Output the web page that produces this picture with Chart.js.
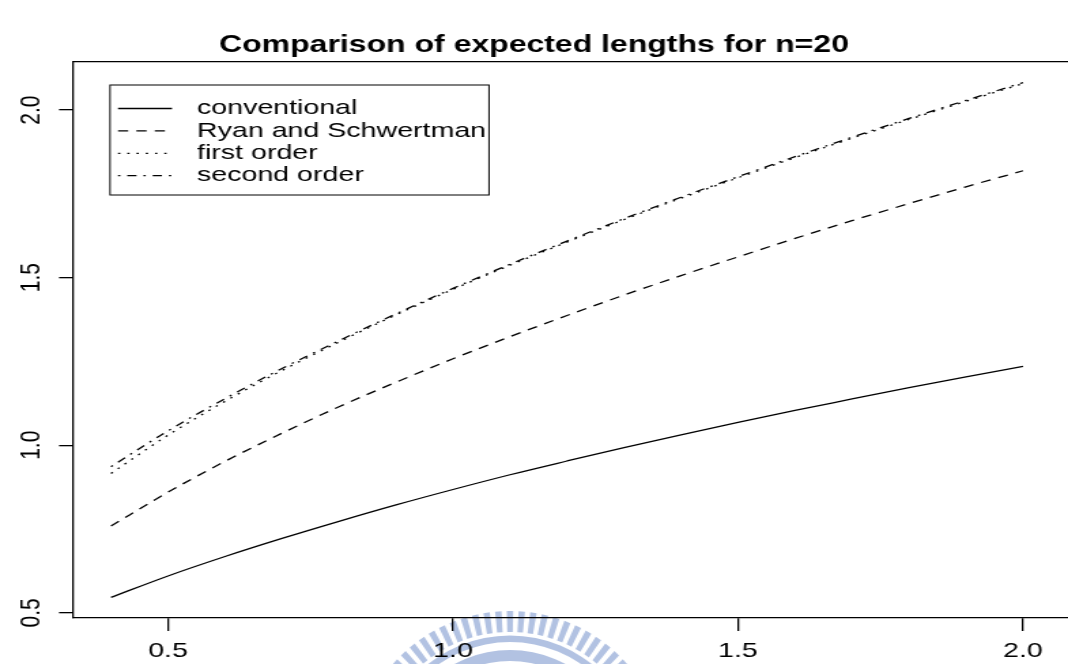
<!DOCTYPE html>
<html>
<head>
<meta charset="utf-8">
<title>Comparison of expected lengths for n=20</title>
<script src="https://cdn.jsdelivr.net/npm/chart.js@4.4.1/dist/chart.umd.min.js"></script>
<style>
  html, body { margin: 0; padding: 0; background: #ffffff; overflow: hidden; }
</style>
</head>
<body>
<!-- the drawing surface is rendered narrower and widened to the page size -->
<canvas id="plot" width="785" height="664" style="display:block;width:1068px;height:664px;"></canvas>
<script>
// parameter values on the x axis
const lambdaValues = [0.4, 0.5, 0.6, 0.7, 0.8, 0.9, 1.0, 1.1, 1.2, 1.3, 1.4, 1.5, 1.6, 1.7, 1.8, 1.9, 2.0];

// expected interval lengths for each method
const conventional = [0.546, 0.610, 0.668, 0.722, 0.773, 0.822, 0.868, 0.912, 0.953, 0.993, 1.031, 1.068, 1.104, 1.138, 1.172, 1.204, 1.235];
const ryanSchwertman = [0.759, 0.860, 0.952, 1.036, 1.115, 1.188, 1.258, 1.324, 1.387, 1.448, 1.506, 1.562, 1.617, 1.670, 1.721, 1.771, 1.819];
const firstOrder = [0.916, 1.030, 1.131, 1.223, 1.308, 1.389, 1.465, 1.537, 1.606, 1.673, 1.737, 1.798, 1.858, 1.916, 1.972, 2.026, 2.079];
const secondOrder = [0.936, 1.043, 1.139, 1.229, 1.312, 1.392, 1.468, 1.540, 1.609, 1.676, 1.740, 1.801, 1.861, 1.919, 1.975, 2.029, 2.082];

const seriesNames = ['conventional', 'Ryan and Schwertman', 'first order', 'second order'];

// axis ticks
const xTickValues = [0.5, 1.0, 1.5, 2.0];
const xTickLabels = ['0.5', '1.0', '1.5', '2.0'];
const yTickValues = [0.5, 1.0, 1.5, 2.0];
const yTickLabels = ['0.5', '1.0', '1.5', '2.0'];

const chartTitle = 'Comparison of expected lengths for n=20';

// horizontal widening factor of the canvas
const canvasEl = document.getElementById('plot');
const SX = 1068 / canvasEl.width;

const FONT = "'Liberation Sans', Arial, Helvetica, sans-serif";
const INK = '#000000';
const LW = 1.3;

Chart.defaults.font.family = FONT;
Chart.defaults.color = INK;

function toPoints(values) {
  return lambdaValues.map((x, i) => ({ x: x, y: values[i] }));
}

// faint university seal in the lower middle, behind everything
const sealBackdrop = {
  id: 'sealBackdrop',
  beforeDraw(chart) {
    const ctx = chart.ctx;
    const cx = 510, cy = 767; // centre, page pixels
    const col = 'rgb(178,194,226)';
    ctx.save();
    ctx.fillStyle = col;
    // radial bars
    const rIn = 135, rOut = 156;
    const step = 11 / 146, half = 3 / 146;
    for (let k = -14; k <= 14; k++) {
      const a = -Math.PI / 2 + k * step;
      const a0 = a - half, a1 = a + half;
      ctx.beginPath();
      ctx.moveTo((cx + rIn * Math.cos(a0)) / SX, cy + rIn * Math.sin(a0));
      ctx.lineTo((cx + rOut * Math.cos(a0)) / SX, cy + rOut * Math.sin(a0));
      ctx.lineTo((cx + rOut * Math.cos(a1)) / SX, cy + rOut * Math.sin(a1));
      ctx.lineTo((cx + rIn * Math.cos(a1)) / SX, cy + rIn * Math.sin(a1));
      ctx.closePath();
      ctx.fill();
    }
    // rings
    const ring = (r0, r1) => {
      ctx.beginPath();
      ctx.ellipse(cx / SX, cy, r1 / SX, r1, 0, 0, Math.PI * 2);
      ctx.ellipse(cx / SX, cy, r0 / SX, r0, 0, 0, Math.PI * 2, true);
      ctx.fill();
    };
    ring(125, 131.5);
    ring(106, 117);
    ctx.restore();
  }
};

// boxed key in the upper left of the plot
const boxedKey = {
  id: 'boxedKey',
  afterDraw(chart) {
    const ctx = chart.ctx;
    const a = chart.chartArea;
    const left = a.left + 37 / SX;
    const top = a.top + 23;
    const w = 379 / SX;
    const h = 110;
    ctx.save();
    ctx.strokeStyle = INK;
    ctx.lineWidth = 1;
    ctx.strokeRect(left, top, w, h);
    ctx.font = '21px ' + FONT;
    ctx.textBaseline = 'middle';
    ctx.textAlign = 'left';
    ctx.fillStyle = INK;
    chart.data.datasets.forEach((ds, i) => {
      const y = top + 23.5 + i * 22.4;
      ctx.beginPath();
      ctx.setLineDash(ds.borderDash || []);
      ctx.lineWidth = ds.borderWidth;
      ctx.moveTo(left + 8 / SX, y);
      ctx.lineTo(left + 62 / SX, y);
      ctx.stroke();
      ctx.setLineDash([]);
      ctx.fillText(ds.label, left + 87 / SX, y);
    });
    ctx.restore();
  }
};

const lineBase = {
  borderColor: INK,
  backgroundColor: INK,
  borderWidth: LW,
  pointRadius: 0,
  fill: false,
  cubicInterpolationMode: 'monotone',
  borderCapStyle: 'butt'
};

new Chart(canvasEl, {
  type: 'line',
  data: {
    datasets: [
      Object.assign({}, lineBase, { label: seriesNames[0], data: toPoints(conventional), borderDash: [] }),
      Object.assign({}, lineBase, { label: seriesNames[1], data: toPoints(ryanSchwertman), borderDash: [7.5, 6] }),
      Object.assign({}, lineBase, { label: seriesNames[2], data: toPoints(firstOrder), borderDash: [1.7, 5.1] }),
      Object.assign({}, lineBase, { label: seriesNames[3], data: toPoints(secondOrder), borderDash: [1.7, 5.1, 6.8, 5.1] })
    ]
  },
  options: {
    responsive: false,
    devicePixelRatio: 1,
    animation: false,
    events: [],
    layout: { padding: { left: 0, right: 0, top: 0, bottom: 0 } },
    plugins: {
      legend: { display: false },
      tooltip: { enabled: false },
      title: {
        display: true,
        text: chartTitle,
        color: INK,
        font: { family: FONT, size: 23.5, weight: 'bold', lineHeight: 1.2 },
        padding: { top: 31.5, bottom: 2.3 }
      }
    },
    scales: {
      x: {
        type: 'linear',
        position: 'bottom',
        min: 0.33333,
        max: 2.07895,
        afterBuildTicks(scale) { scale.ticks = xTickValues.map(v => ({ value: v })); },
        afterFit(scale) { scale.height = 46; },
        ticks: {
          autoSkip: false,
          maxRotation: 0,
          minRotation: 0,
          padding: 8,
          color: INK,
          font: { family: FONT, size: 21 },
          callback: (v, i) => xTickLabels[i]
        },
        grid: { display: true, drawOnChartArea: false, drawTicks: true, tickLength: 13, color: INK, lineWidth: LW },
        border: { display: true, color: INK, width: LW }
      },
      xTop: {
        type: 'linear',
        position: 'top',
        min: 0,
        max: 1,
        afterFit(scale) { scale.height = 0; },
        ticks: { display: false },
        grid: { display: false, drawTicks: false },
        border: { display: true, color: INK, width: LW }
      },
      y: {
        type: 'linear',
        position: 'left',
        min: 0.4846,
        max: 2.1434,
        afterBuildTicks(scale) { scale.ticks = yTickValues.map(v => ({ value: v })); },
        afterFit(scale) { scale.width = 73 / SX; },
        ticks: {
          autoSkip: false,
          minRotation: 90,
          maxRotation: 90,
          crossAlign: 'center',
          padding: 6,
          color: INK,
          font: { family: FONT, size: 21 },
          callback: (v, i) => yTickLabels[i]
        },
        grid: { display: true, drawOnChartArea: false, drawTicks: true, tickLength: 14 / SX, color: INK, lineWidth: LW },
        border: { display: true, color: INK, width: LW }
      }
    }
  },
  plugins: [sealBackdrop, boxedKey]
});
</script>
</body>
</html>
